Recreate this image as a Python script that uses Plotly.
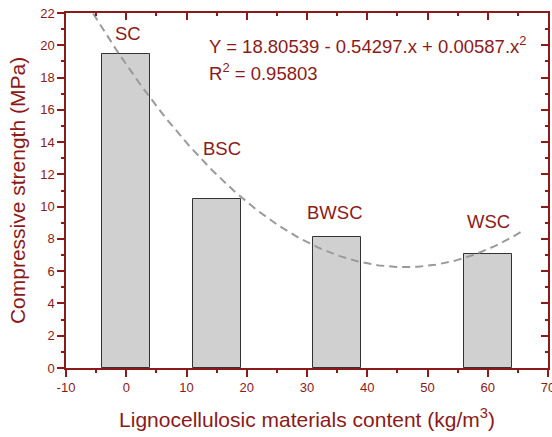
import numpy as np
import plotly.graph_objects as go

# Data
categories = ["SC", "BSC", "BWSC", "WSC"]
content = [0, 15, 35, 60]           # kg/m3
strength = [19.45, 10.5, 8.1, 7.05]  # MPa
label_x = [0.3, 15.9, 34.6, 60.2]
label_y = [20.7, 13.6, 9.65, 9.1]
fit_coef = [18.80539, -0.54297, 0.00587]
fit_x_range = [-5.5, 66]
x_ticks = [-10, 0, 10, 20, 30, 40, 50, 60, 70]
x_ticktext = ["-10", "0", "10", "20", "30", "40", "50", "60", "70"]

RED = "#8b1a1a"
FONT = "Liberation Sans, Arial, sans-serif"

fig = go.Figure()
fig.add_trace(go.Bar(
    x=content, y=strength, width=8,
    marker=dict(color="#d0d0d0", line=dict(color="#333333", width=1)),
    showlegend=False,
))

xf = np.linspace(fit_x_range[0], fit_x_range[1], 200)
yf = fit_coef[0] + fit_coef[1] * xf + fit_coef[2] * xf ** 2
fig.add_trace(go.Scatter(
    x=xf, y=yf, mode="lines",
    line=dict(color="#9a9a9a", width=2, dash="8px,5px"),
    showlegend=False, xaxis="x", yaxis="y",
))

for c, x, y in zip(categories, label_x, label_y):
    fig.add_annotation(x=x, y=y, text=c, showarrow=False,
                       font=dict(family=FONT, size=18.5, color=RED),
                       xanchor="center", yanchor="middle")

fig.add_annotation(x=0.2925, y=0.91, xref="paper", yref="paper",
                   text="Y = 18.80539 - 0.54297.x + 0.00587.x<sup>2</sup>",
                   showarrow=False, xanchor="left", yanchor="middle",
                   font=dict(family=FONT, size=18.5, color=RED))
fig.add_annotation(x=0.2925, y=0.834, xref="paper", yref="paper",
                   text="R<sup>2</sup> = 0.95803",
                   showarrow=False, xanchor="left", yanchor="middle",
                   font=dict(family=FONT, size=18.5, color=RED))

line_common = dict(showgrid=False, zeroline=False, linecolor=RED, linewidth=1.5,
                   tickcolor=RED, tickwidth=1.5, showline=True, automargin=False)
tickfont = dict(family=FONT, size=13, color=RED)

fig.update_layout(
    width=552, height=437,
    margin=dict(l=66, r=4, t=13, b=69),
    plot_bgcolor="white", paper_bgcolor="white",
    bargap=0,
    xaxis=dict(range=[-10, 70], tickvals=x_ticks, ticktext=x_ticktext,
               ticks="outside", ticklen=7, tickfont=tickfont,
               ticklabeloverflow="allow",
               minor=dict(dtick=5, tick0=-10, ticks="outside", ticklen=3.5,
                          tickcolor=RED, tickwidth=1.5),
               title=dict(text="Lignocellulosic materials content (kg/m<sup>3</sup>)",
                          font=dict(family=FONT, size=21, color=RED), standoff=18),
               **line_common),
    yaxis=dict(range=[0, 22], dtick=2, ticks="outside", ticklen=7, tickfont=tickfont,
               minor=dict(dtick=1, ticks="outside", ticklen=3.5, tickcolor=RED, tickwidth=1.5),
               title=dict(text="Compressive strength (MPa)",
                          font=dict(family=FONT, size=21, color=RED), standoff=9),
               **line_common),
    xaxis2=dict(range=[-10, 70], dtick=10, tick0=-10, overlaying="x", side="top",
                ticks="inside", ticklen=7, showticklabels=False,
                minor=dict(dtick=5, tick0=-10, ticks="inside", ticklen=3.5,
                           tickcolor=RED, tickwidth=1.5),
                anchor="y", **line_common),
    yaxis2=dict(range=[0, 22], dtick=2, overlaying="y", side="right",
                ticks="inside", ticklen=7, showticklabels=False,
                minor=dict(dtick=1, ticks="inside", ticklen=3.5, tickcolor=RED, tickwidth=1.5),
                anchor="x", **line_common),
)
# invisible trace to activate the mirrored axes
fig.add_trace(go.Scatter(x=[None], y=[None], xaxis="x2", yaxis="y2", showlegend=False))

fig.write_html("out.html")
